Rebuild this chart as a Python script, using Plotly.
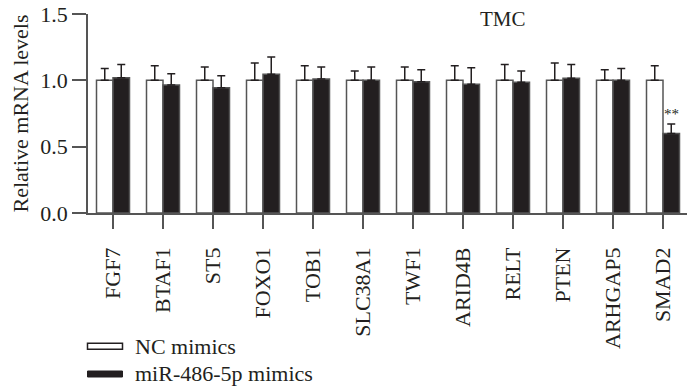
import plotly.graph_objects as go

genes = ["FGF7", "BTAF1", "ST5", "FOXO1", "TOB1", "SLC38A1", "TWF1", "ARID4B",
         "RELT", "PTEN", "ARHGAP5", "SMAD2"]
nc_vals = [1.0, 1.0, 1.0, 1.0, 1.0, 1.0, 1.0, 1.0, 1.0, 1.0, 1.0, 1.0]
nc_err = [0.09, 0.11, 0.10, 0.13, 0.11, 0.07, 0.10, 0.11, 0.12, 0.13, 0.08, 0.11]
mir_vals = [1.02, 0.965, 0.945, 1.045, 1.01, 1.0, 0.99, 0.97, 0.985, 1.015, 1.0, 0.60]
mir_err = [0.10, 0.085, 0.09, 0.13, 0.09, 0.10, 0.09, 0.125, 0.085, 0.105, 0.09, 0.07]
y_ticks = [0.0, 0.5, 1.0, 1.5]
y_ticklabels = ["0.0", "0.5", "1.0", "1.5"]

SERIF = "Liberation Serif, Times New Roman, serif"
INK = "#231f20"
EDGE = "#555555"
FS = 22

# page body has an 8px default margin; compensate so the figure lands as the reference
OFF = 8
W, H = 695 - OFF, 390 - OFF
L, R, T, B = 88 - OFF, 7, 14 - OFF, 177
plot_h = H - T - B


def py(ypix):
    # ypix in screen coordinates of the reference
    return (H - B - (ypix - OFF)) / plot_h


def px(xpix):
    return ((xpix - OFF) - L) / (W - L - R)


fig = go.Figure()
fig.add_trace(go.Bar(
    x=genes, y=nc_vals, name="NC mimics",
    marker=dict(color="white", line=dict(color=EDGE, width=1.5)),
    error_y=dict(type="data", symmetric=False, array=nc_err,
                 arrayminus=[0] * len(genes), color=INK, thickness=1.5, width=4),
))
fig.add_trace(go.Bar(
    x=genes, y=mir_vals, name="miR-486-5p mimics",
    marker=dict(color=INK, line=dict(color=EDGE, width=1.5)),
    error_y=dict(type="data", symmetric=False, array=mir_err,
                 arrayminus=[0] * len(genes), color=INK, thickness=1.5, width=4),
))

annotations = [
    dict(x=px(503), y=py(19.5), xref="paper", yref="paper", text="TMC",
         showarrow=False, font=dict(family=SERIF, size=21, color=INK),
         xanchor="center", yanchor="middle"),
    dict(x=genes[-1], y=mir_vals[-1] + mir_err[-1] + 0.075, xref="x", yref="y",
         text="**", showarrow=False, xshift=8,
         font=dict(family=SERIF, size=15, color=INK),
         xanchor="center", yanchor="middle"),
    dict(x=px(133), y=py(346.5), xref="paper", yref="paper", text="NC mimics",
         showarrow=False, font=dict(family=SERIF, size=FS, color=INK),
         xanchor="left", yanchor="middle"),
    dict(x=px(133), y=py(373), xref="paper", yref="paper", text="miR-486-5p mimics",
         showarrow=False, font=dict(family=SERIF, size=FS, color=INK),
         xanchor="left", yanchor="middle"),
]

shapes = [
    dict(type="rect", xref="paper", yref="paper",
         x0=px(87.5), x1=px(122.5), y0=py(349.3), y1=py(343.3),
         fillcolor="white", line=dict(color=INK, width=1.5)),
    dict(type="rect", xref="paper", yref="paper",
         x0=px(87.5), x1=px(122.5), y0=py(377), y1=py(371),
         fillcolor=INK, line=dict(color=INK, width=1)),
]

fig.update_layout(
    width=W, height=H,
    margin=dict(l=L, r=R, t=T, b=B, autoexpand=False),
    plot_bgcolor="white", paper_bgcolor="white",
    barmode="group", bargap=0.34, bargroupgap=0.0,
    showlegend=False,
    annotations=annotations, shapes=shapes,
    font=dict(family=SERIF, size=FS, color=INK),
)
fig.update_xaxes(
    automargin=False,
    showline=True, linecolor=EDGE, linewidth=1.5,
    ticks="outside", ticklen=14, tickwidth=1.5, tickcolor=EDGE,
    tickangle=-90, tickfont=dict(family=SERIF, size=FS, color=INK),
    ticklabelstandoff=10, ticklabeloverflow="allow",
    showgrid=False, zeroline=False,
)
fig.update_yaxes(
    automargin=False,
    range=[0, 1.5], tickvals=y_ticks, ticktext=y_ticklabels,
    showline=True, linecolor=EDGE, linewidth=1.5,
    ticks="outside", ticklen=14, tickwidth=1.5, tickcolor=EDGE,
    tickfont=dict(family=SERIF, size=FS, color=INK),
    ticklabeloverflow="allow",
    title=dict(text="Relative mRNA levels", font=dict(family=SERIF, size=FS, color=INK),
               standoff=8),
    showgrid=False, zeroline=False,
)

fig.write_html("out.html")
